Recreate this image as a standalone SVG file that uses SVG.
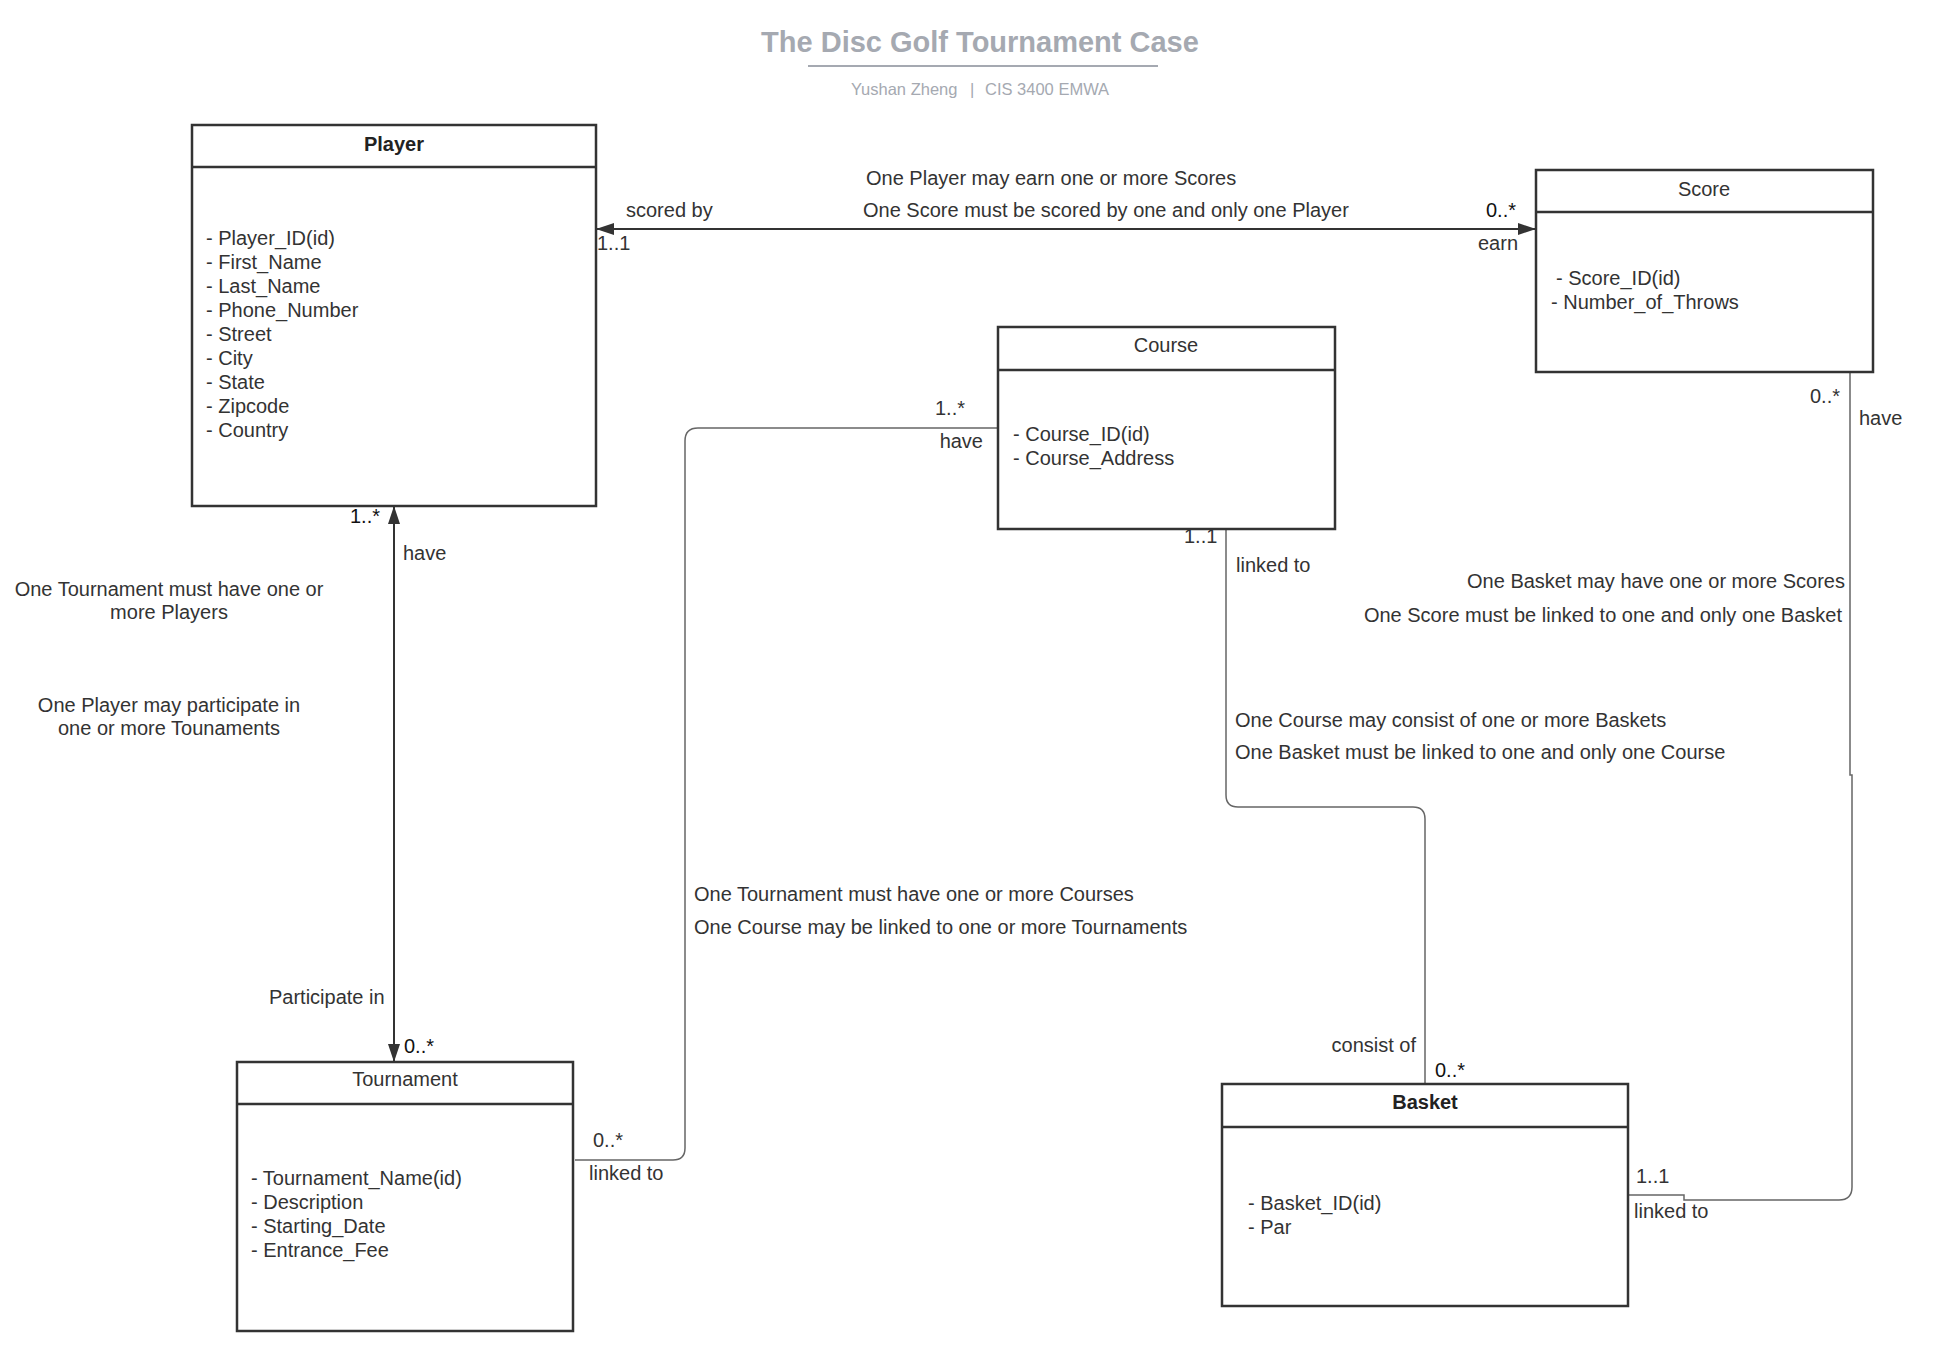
<svg xmlns="http://www.w3.org/2000/svg" width="1946" height="1358" viewBox="0 0 1946 1358">
<style>
text{font-family:"Liberation Sans",Arial,sans-serif;font-size:20px;fill:#333}
.title{font-size:29px;font-weight:bold;fill:#a5a9b1}
.sub{font-size:16.5px;fill:#a5a9b1}
.hdr{text-anchor:middle}
.bold{font-weight:bold;fill:#222}
.box{fill:#fff;stroke:#333;stroke-width:2.5}
.div{stroke:#333;stroke-width:2.5}
.dark{fill:none;stroke:#333;stroke-width:2}
.grey{fill:none;stroke:#666;stroke-width:1.5}
.mid{text-anchor:middle}
.end{text-anchor:end}
.mult{fill:#111}
</style>
<defs>
<marker id="arr" viewBox="0 0 18 12" refX="18" refY="6" markerWidth="18" markerHeight="12" markerUnits="userSpaceOnUse" orient="auto-start-reverse">
<path d="M0,0 L18,6 L0,12 z" fill="#333"/>
</marker>
</defs>
<rect width="1946" height="1358" fill="#fff"/>
<g id="title">
<text class="title mid" x="980" y="52">The Disc Golf Tournament Case</text>
<line x1="808" y1="66" x2="1158" y2="66" stroke="#a5a9b1" stroke-width="2"/>
<text class="sub" x="851" y="95">Yushan Zheng</text>
<text class="sub" x="970" y="95">|</text>
<text class="sub" x="985" y="95">CIS 3400 EMWA</text>
</g>
<g id="connectors">
<line class="dark" x1="596" y1="229" x2="1536" y2="229" marker-start="url(#arr)" marker-end="url(#arr)"/>
<line class="dark" x1="394" y1="506" x2="394" y2="1062" marker-start="url(#arr)" marker-end="url(#arr)"/>
<path class="grey" d="M998,428 H698 Q685,428 685,441 V1148 Q685,1160 673,1160 H575"/>
<path class="grey" d="M1226,529 V795 Q1226,807 1238,807 H1413 Q1425,807 1425,819 V1084"/>
<path class="grey" d="M1628,1195 H1684 V1200 H1839 Q1852,1200 1852,1187 V775 H1850 V372"/>
</g>
<g id="labels">
<text x="866" y="185">One Player may earn one or more Scores</text>
<text x="863" y="217">One Score must be scored by one and only one Player</text>
<text x="626" y="217">scored by</text>
<text class="mult" x="1486" y="217">0..*</text>
<text x="597" y="250">1..1</text>
<text x="1478" y="250">earn</text>
<text class="mult" x="350" y="523">1..*</text>
<text x="403" y="560">have</text>
<text class="mid" x="169" y="596">One Tournament must have one or</text>
<text class="mid" x="169" y="619">more Players</text>
<text class="mid" x="169" y="712">One Player may participate in</text>
<text class="mid" x="169" y="735">one or more Tounaments</text>
<text x="269" y="1004">Participate in</text>
<text class="mult" x="404" y="1053">0..*</text>
<text x="935" y="415">1..*</text>
<text class="end" x="983" y="448">have</text>
<text x="694" y="901">One Tournament must have one or more Courses</text>
<text x="694" y="934">One Course may be linked to one or more Tournaments</text>
<text x="593" y="1147">0..*</text>
<text x="589" y="1180">linked to</text>
<text x="1184" y="543">1..1</text>
<text x="1236" y="572">linked to</text>
<text x="1235" y="727">One Course may consist of one or more Baskets</text>
<text x="1235" y="759">One Basket must be linked to one and only one Course</text>
<text class="end" x="1416" y="1052">consist of</text>
<text class="mult" x="1435" y="1077">0..*</text>
<text x="1810" y="403">0..*</text>
<text x="1859" y="425">have</text>
<text class="end" x="1845" y="588">One Basket may have one or more Scores</text>
<text class="end" x="1842" y="622">One Score must be linked to one and only one Basket</text>
<text x="1636" y="1183">1..1</text>
<text x="1634" y="1218">linked to</text>
</g>
<g id="player">
<rect class="box" x="192" y="125" width="404" height="381"/>
<line class="div" x1="192" y1="167" x2="596" y2="167"/>
<text class="hdr bold" x="394" y="151">Player</text>
<text x="206" y="245">- Player_ID(id)</text>
<text x="206" y="269">- First_Name</text>
<text x="206" y="293">- Last_Name</text>
<text x="206" y="317">- Phone_Number</text>
<text x="206" y="341">- Street</text>
<text x="206" y="365">- City</text>
<text x="206" y="389">- State</text>
<text x="206" y="413">- Zipcode</text>
<text x="206" y="437">- Country</text>
</g>
<g id="score">
<rect class="box" x="1536" y="170" width="337" height="202"/>
<line class="div" x1="1536" y1="212" x2="1873" y2="212"/>
<text class="hdr" x="1704" y="196">Score</text>
<text x="1556" y="285">- Score_ID(id)</text>
<text x="1551" y="309">- Number_of_Throws</text>
</g>
<g id="course">
<rect class="box" x="998" y="327" width="337" height="202"/>
<line class="div" x1="998" y1="370" x2="1335" y2="370"/>
<text class="hdr" x="1166" y="352">Course</text>
<text x="1013" y="441">- Course_ID(id)</text>
<text x="1013" y="465">- Course_Address</text>
</g>
<g id="tournament">
<rect class="box" x="237" y="1062" width="336" height="269"/>
<line class="div" x1="237" y1="1104" x2="573" y2="1104"/>
<text class="hdr" x="405" y="1086">Tournament</text>
<text x="251" y="1185">- Tournament_Name(id)</text>
<text x="251" y="1209">- Description</text>
<text x="251" y="1233">- Starting_Date</text>
<text x="251" y="1257">- Entrance_Fee</text>
</g>
<g id="basket">
<rect class="box" x="1222" y="1084" width="406" height="222"/>
<line class="div" x1="1222" y1="1127" x2="1628" y2="1127"/>
<text class="hdr bold" x="1425" y="1109">Basket</text>
<text x="1248" y="1210">- Basket_ID(id)</text>
<text x="1248" y="1234">- Par</text>
</g>
</svg>
